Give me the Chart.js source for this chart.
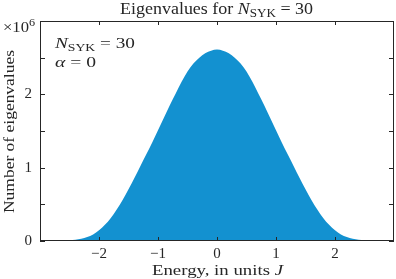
<!DOCTYPE html>
<html><head><meta charset="utf-8">
<script src="https://cdn.jsdelivr.net/npm/chart.js@4/dist/chart.umd.min.js"></script>
<style>html,body{margin:0;padding:0;background:#fff}#wrap{width:396px;height:279px;position:relative}</style>
</head><body><div id="wrap"><canvas id="c" width="396" height="279"></canvas></div>
<script>
// Energy bins (units of J)
const energies = [-3.0,-2.9,-2.8,-2.7,-2.6,-2.5,-2.4,-2.3,-2.2,-2.1,-2.0,-1.9,-1.8,-1.7,-1.6,-1.5,-1.4,-1.3,-1.2,-1.1,-1.0,-0.9,-0.8,-0.7,-0.6,-0.5,-0.4,-0.3,-0.2,-0.1,0.0,
  0.1,0.2,0.3,0.4,0.5,0.6,0.7,0.8,0.9,1.0,1.1,1.2,1.3,1.4,1.5,1.6,1.7,1.8,1.9,2.0,2.1,2.2,2.3,2.4,2.5,2.6,2.7,2.8,2.9,3.0];
// Number of eigenvalues per bin
const counts = [0,0,400,1300,3500,8000,16000,30000,53000,90000,145000,220000,315000,430000,560000,705000,860000,1020000,1180000,1340000,1510000,1680000,1850000,2010000,2170000,2310000,2420000,2500000,2560000,2595000,2610000,
  2595000,2560000,2500000,2420000,2310000,2170000,2010000,1850000,1680000,1510000,1340000,1180000,1020000,860000,705000,560000,430000,315000,220000,145000,90000,53000,30000,16000,8000,3500,1300,400,0,0];
const xTickValues = [-2,-1,0,1,2];
const xTickLabels = ['\u22122','\u22121','0','1','2'];
const yTickValues = [0,500000,1000000,1500000,2000000,2500000,3000000];
const yTickLabels = ['0','','1','','2','',''];

const SERIF = '"Liberation Serif","DejaVu Serif",serif';
const AX = '#262626';

function drawFit(ctx, runs, x, y, width){
  let w = 0;
  runs.forEach(r=>{ctx.font=r.font; w += ctx.measureText(r.text).width;});
  const s = width / w;
  ctx.save();
  ctx.translate(x, y);
  ctx.scale(s, 1);
  ctx.textAlign='left'; ctx.textBaseline='alphabetic';
  let cx = 0;
  runs.forEach(r=>{ctx.font=r.font; ctx.fillText(r.text, cx, r.dy||0); cx += ctx.measureText(r.text).width;});
  ctx.restore();
}

const decor = {
  id:'decor',
  afterDraw(chart){
    const ctx = chart.ctx, a = chart.chartArea;
    const xs = chart.scales.x, ys = chart.scales.y;
    ctx.save();
    ctx.strokeStyle = AX; ctx.lineWidth = 1;
    ctx.strokeRect(Math.round(a.left)+0.5, Math.round(a.top)+0.5, Math.round(a.right-a.left)-1, Math.round(a.bottom-a.top)-1);
    ctx.beginPath();
    xTickValues.forEach(v=>{
      const px = Math.round(xs.getPixelForValue(v))+0.5;
      ctx.moveTo(px, a.bottom); ctx.lineTo(px, a.bottom-4);
      ctx.moveTo(px, a.top); ctx.lineTo(px, a.top+4);
    });
    yTickValues.forEach(v=>{
      const py = Math.round(ys.getPixelForValue(v))+0.5;
      ctx.moveTo(a.left, py); ctx.lineTo(a.left+5, py);
      ctx.moveTo(a.right, py); ctx.lineTo(a.right-5, py);
    });
    ctx.stroke();
    ctx.fillStyle = '#262626';
    // title
    drawFit(ctx, [
      {text:'Eigenvalues for ', font:'16.5px '+SERIF},
      {text:'N', font:'italic 16.5px '+SERIF},
      {text:'SYK', font:'12px '+SERIF, dy:3},
      {text:' = 30', font:'16.5px '+SERIF}
    ], 120, 13.5, 193);
    // annotation
    drawFit(ctx, [
      {text:'N', font:'italic 15.5px '+SERIF},
      {text:'SYK', font:'11px '+SERIF, dy:3},
      {text:' = 30', font:'15.5px '+SERIF}
    ], 55, 48, 80);
    drawFit(ctx, [
      {text:'\u03b1', font:'italic 15.5px '+SERIF},
      {text:' = 0', font:'15.5px '+SERIF}
    ], 55, 67, 41);
    // exponent
    drawFit(ctx, [
      {text:'\u00d710', font:'15px '+SERIF},
      {text:'6', font:'11px '+SERIF, dy:-6}
    ], 3, 31.5, 32);
    // x title
    drawFit(ctx, [
      {text:'Energy, in units ', font:'15px '+SERIF},
      {text:'J', font:'italic 15px '+SERIF}
    ], 152, 275, 131);
    // y title
    ctx.save();
    ctx.translate(13.5, 213);
    ctx.rotate(-Math.PI/2);
    drawFit(ctx, [{text:'Number of eigenvalues', font:'15px '+SERIF}], 0, 0, 163);
    ctx.restore();
    ctx.restore();
  }
};

new Chart(document.getElementById('c'), {
  type:'line',
  data:{
    datasets:[{
      data: energies.map((e,i)=>({x:e, y:counts[i]})),
      backgroundColor:'rgb(19,145,208)',
      borderColor:'rgb(19,145,208)',
      borderWidth:0,
      fill:'origin',
      pointRadius:0,
      cubicInterpolationMode:'monotone'
    }]
  },
  options:{
    responsive:false,
    animation:false,
    devicePixelRatio:1,
    layout:{padding:{left:0, top:21, right:2, bottom:0}},
    plugins:{legend:{display:false}, tooltip:{enabled:false}, title:{display:false}},
    scales:{
      x:{
        type:'linear', min:-3, max:3,
        grid:{display:false, drawTicks:false}, border:{display:false},
        afterBuildTicks(s){ s.ticks = xTickValues.map(v=>({value:v})); },
        afterFit(s){ s.height = 38; },
        ticks:{
          padding:4, color:'#262626', font:{family:SERIF, size:15}, maxRotation:0, autoSkip:false,
          callback(v){ const i = xTickValues.indexOf(v); return i>=0 ? xTickLabels[i] : ''; }
        }
      },
      y:{
        type:'linear', min:0, max:3000000,
        grid:{display:false, drawTicks:false}, border:{display:false},
        afterBuildTicks(s){ s.ticks = yTickValues.map(v=>({value:v})); },
        afterFit(s){ s.width = 40; },
        ticks:{
          padding:8, color:'#262626', font:{family:SERIF, size:15}, autoSkip:false,
          callback(v){ const i = yTickValues.indexOf(v); return i>=0 ? yTickLabels[i] : ''; }
        }
      }
    }
  },
  plugins:[decor]
});
</script></body></html>
